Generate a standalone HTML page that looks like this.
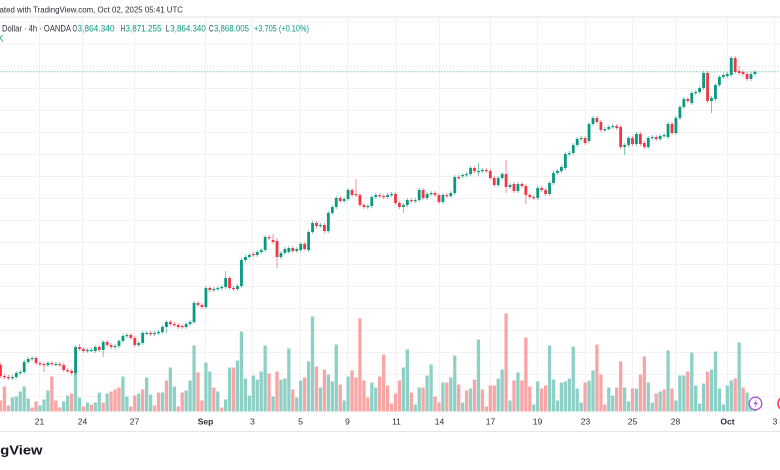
<!DOCTYPE html>
<html><head><meta charset="utf-8">
<style>
html,body{margin:0;padding:0;background:#fff;}
body{width:780px;height:470px;overflow:hidden;}
svg{display:block;font-family:"Liberation Sans",sans-serif;}
</style></head>
<body>
<svg id="s" width="780" height="470" viewBox="0 0 780 470" xmlns="http://www.w3.org/2000/svg">
<rect x="0" y="0" width="780" height="470" fill="#fff"/>
<line x1="0" y1="17" x2="780" y2="17" stroke="#efe9eb" stroke-width="1.5"/>
<g stroke="#f3f1f4" stroke-width="1">
<line x1="0" x2="780" y1="22" y2="22"/><line x1="0" x2="780" y1="44" y2="44"/><line x1="0" x2="780" y1="66.5" y2="66.5"/><line x1="0" x2="780" y1="88.5" y2="88.5"/><line x1="0" x2="780" y1="110.5" y2="110.5"/><line x1="0" x2="780" y1="132.5" y2="132.5"/><line x1="0" x2="780" y1="154.5" y2="154.5"/><line x1="0" x2="780" y1="176.5" y2="176.5"/><line x1="0" x2="780" y1="198.5" y2="198.5"/><line x1="0" x2="780" y1="220.5" y2="220.5"/><line x1="0" x2="780" y1="242.5" y2="242.5"/><line x1="0" x2="780" y1="264.5" y2="264.5"/><line x1="0" x2="780" y1="286.5" y2="286.5"/><line x1="0" x2="780" y1="308.5" y2="308.5"/><line x1="0" x2="780" y1="330.5" y2="330.5"/><line x1="0" x2="780" y1="352.5" y2="352.5"/><line x1="0" x2="780" y1="374.5" y2="374.5"/><line x1="0" x2="780" y1="396.5" y2="396.5"/>
</g>
<g stroke="#f3f1f4" stroke-width="1">
<line y1="18" y2="412" x1="39.5" x2="39.5"/><line y1="18" y2="412" x1="82.5" x2="82.5"/><line y1="18" y2="412" x1="134.5" x2="134.5"/><line y1="18" y2="412" x1="205.5" x2="205.5"/><line y1="18" y2="412" x1="252.5" x2="252.5"/><line y1="18" y2="412" x1="300.5" x2="300.5"/><line y1="18" y2="412" x1="347.5" x2="347.5"/><line y1="18" y2="412" x1="396.5" x2="396.5"/><line y1="18" y2="412" x1="439.5" x2="439.5"/><line y1="18" y2="412" x1="490.5" x2="490.5"/><line y1="18" y2="412" x1="537.5" x2="537.5"/><line y1="18" y2="412" x1="585.5" x2="585.5"/><line y1="18" y2="412" x1="632.5" x2="632.5"/><line y1="18" y2="412" x1="675.5" x2="675.5"/><line y1="18" y2="412" x1="727.5" x2="727.5"/><line y1="18" y2="412" x1="774.5" x2="774.5"/>
</g>
<g id="vol"></g>
<line x1="0" y1="71.8" x2="780" y2="71.8" stroke="#7ccabd" stroke-width="1" stroke-dasharray="1.5 1.5"/>
<g id="cdl"></g>

<text x="-0.5" y="12.7" font-size="8.3" fill="#2a2e39" textLength="183.5" lengthAdjust="spacingAndGlyphs">ated with TradingView.com, Oct 02, 2025 05:41 UTC</text>
<text x="2" y="31.5" font-size="9" fill="#2a2e39" textLength="69" lengthAdjust="spacingAndGlyphs">Dollar · 4h · OANDA</text>
<text x="72.5" y="31.5" font-size="9" fill="#2a2e39" textLength="4.5" lengthAdjust="spacingAndGlyphs">O</text>
<text x="77.5" y="31.5" font-size="9" fill="#089981" textLength="37" lengthAdjust="spacingAndGlyphs">3,864.340</text>
<text x="120.7" y="31.5" font-size="9" fill="#2a2e39" textLength="4.3" lengthAdjust="spacingAndGlyphs">H</text>
<text x="125.5" y="31.5" font-size="9" fill="#089981" textLength="36" lengthAdjust="spacingAndGlyphs">3,871.255</text>
<text x="165.7" y="31.5" font-size="9" fill="#2a2e39" textLength="3.6" lengthAdjust="spacingAndGlyphs">L</text>
<text x="170.3" y="31.5" font-size="9" fill="#089981" textLength="35.5" lengthAdjust="spacingAndGlyphs">3,864.340</text>
<text x="209" y="31.5" font-size="9" fill="#2a2e39" textLength="4.3" lengthAdjust="spacingAndGlyphs">C</text>
<text x="214" y="31.5" font-size="9" fill="#089981" textLength="35" lengthAdjust="spacingAndGlyphs">3,868.005</text>
<text x="254" y="31.5" font-size="9" fill="#089981" textLength="55" lengthAdjust="spacingAndGlyphs">+3.705 (+0.10%)</text>
<text x="-2.5" y="41.7" font-size="9" fill="#089981">K</text>

<g font-size="8.5" fill="#2a2e39" text-anchor="middle">
<text x="39.5" y="424.3">21</text><text x="82.5" y="424.3">24</text><text x="134.5" y="424.3">27</text>
<text x="205.5" y="424.3" font-weight="bold">Sep</text>
<text x="252.5" y="424.3">3</text><text x="300.5" y="424.3">5</text><text x="347.5" y="424.3">9</text>
<text x="396.5" y="424.3">11</text><text x="439.5" y="424.3">14</text><text x="490.5" y="424.3">17</text>
<text x="537.5" y="424.3">19</text><text x="585.5" y="424.3">23</text><text x="632.5" y="424.3">25</text>
<text x="675.5" y="424.3">28</text>
<text x="727.5" y="424.3" font-weight="bold">Oct</text>
<text x="775" y="424.3">3</text>
</g>
<line x1="0" y1="431.5" x2="780" y2="431.5" stroke="#e6e6ea" stroke-width="1"/>

<text x="-44" y="454.5" font-size="12.5" font-weight="bold" fill="#131722" textLength="86.5" lengthAdjust="spacingAndGlyphs">TradingView</text>

<circle cx="755.5" cy="403.5" r="6.3" fill="#fff" stroke="#a64fd8" stroke-width="1.3"/>
<path d="M757 399 L753.5 404 L755.8 404 L754.3 408 L758 402.8 L755.7 402.8 Z" fill="#a64fd8"/>
<circle cx="785" cy="403.5" r="7" fill="#fff" stroke="#f23645" stroke-width="1.5"/>
<circle cx="785" cy="403.5" r="4.5" fill="#2f6fe8"/>
</svg>
<script>
const P=[365,376,376,377,377,378,378,377,377,373,373,372,372,362,362,359,359,358,358,363,
363,364,364,365,365,363,363,364,364,364,364,365,365,370,370,371,371,373,373,347,
347,349,349,351,351,350,350,350,351,347,347,350,350,342,342,345,345,347,347,346,
346,341,341,336,336,335,335,338,338,345,345,343,343,333,333,333,333,334,334,333,
333,332,332,327,327,322,322,324,324,325,325,327,326,327,327,324,324,322,322,303,
303,305,305,307,307,288,288,290,290,289,289,288,288,287,287,278,278,288,288,289,
289,286,286,260,260,257,257,255,254,255,255,252,252,250,250,237,237,238,240,242,
241,257,257,253,253,249,252,248,248,251,251,249,250,244,244,249,250,232,232,223,
223,226,226,225,225,231,231,213,213,207,207,198,198,201,201,199,199,190,190,195,
194,195,195,205,205,207,207,206,206,197,197,195,195,196,196,197,197,195,195,194,
194,203,203,207,207,205,205,200,200,201,201,200,200,190,190,198,198,194,194,193,
193,195,195,202,202,195,195,196,196,193,193,177,177,178,176,175,175,174,174,168,
168,171,172,171,171,170,170,171,171,178,178,185,185,178,178,174,174,187,187,185,
184,191,191,184,184,186,186,195,195,197,197,198,198,188,188,190,190,194,194,183,
183,173,173,171,171,167,168,154,154,153,153,145,145,139,139,138,138,143,141,124,
124,118,118,122,122,130,130,129,129,127,127,126,126,128,127,147,147,145,145,138,
138,144,144,134,134,144,143,147,147,138,138,137,137,139,139,136,136,135,137,124,
124,133,133,118,118,107,107,99,99,101,103,93,93,92,92,88,88,73,73,101,
101,98,99,85,85,77,77,75,76,74,75,58,58,72,71,73,72,74,74,79,
79,74,74,72];
const W={3:[0,380],11:[0,372],20:[344,0],26:[0,357],42:[0,333],70:[238,268],90:[179,0],102:[0,213],121:[163,176],128:[160,193],133:[0,204],157:[0,149],158:[0,155],179:[71,0],180:[0,113],187:[66,0],69:[234,0],57:[271,0]};
const V="r11 r25 r6 t14 t15 t20 t25 t13 r4 r10 t6 t12 t21 r35 r11 r4 t10 t16 r18 t41 t14 r5 t9 r7 t9 t19 r9 t18 r20 r22 r24 t35 t15 r5 r16 t18 r22 t34 t17 r6 r19 t19 r31 t44 t25 r5 r19 t21 t31 t66 r39 r11 t49 t40 r24 t20 r4 t12 t44 r44 t51 t80 t33 t16 t36 t32 t40 t66 r38 t15 r40 t32 t33 t63 r22 t14 t31 r34 t50 t95 r45 t24 r42 t37 t30 t67 r27 t11 t35 r41 r34 r93 r31 r14 t29 t24 r35 r57 r26 r8 r18 r31 t44 t62 r19 t7 t24 r24 t36 t47 r15 r9 t29 r29 t34 t56 r27 t9 r21 t23 r32 t72 r22 r5 r26 r26 t33 t42 r98 t11 r31 t39 r31 r74 r25 t7 t30 r23 r26 t66 t32 t11 t29 t30 t33 t65 t23 t9 r29 t31 t41 r67 r37 r7 t24 t16 r24 r50 t24 t10 r23 t23 r37 r55 t29 t9 r18 t20 r22 t61 r23 t11 t36 t36 r40 t59 t26 t8 t28 r40 t42 t60 t23 t7 t26 t31 r33 t69 r24 t19 t9 t3".split(" ");
let vs="",cs="";
const n=P.length/2;
for(let i=0;i<n;i++){
  const x=0.5+3.95*i;
  const v=V[i]||"t5";
  const vc=v[0]==="t"?"#8fd0c6":"#f7a5a5";
  const h=+v.slice(1);
  vs+='<rect x="'+(x-1.65).toFixed(2)+'" y="'+(411.5-h).toFixed(2)+'" width="3.3" height="'+h+'" fill="'+vc+'"/>';
  const o=P[2*i],c=P[2*i+1];
  const up=c<=o;
  const col=up?"#089981":"#f23645";
  const top=Math.min(o,c),bot=Math.max(o,c);
  let hi=top-2,lo=bot+2;
  if(W[i]){if(W[i][0])hi=W[i][0];if(W[i][1])lo=W[i][1];}
  cs+='<line x1="'+x.toFixed(2)+'" x2="'+x.toFixed(2)+'" y1="'+hi+'" y2="'+lo+'" stroke="'+col+'" stroke-opacity="0.55" stroke-width="1"/>';
  cs+='<rect x="'+(x-1.4).toFixed(2)+'" y="'+top+'" width="2.8" height="'+Math.max(bot-top,1.2)+'" fill="'+col+'"/>';
}
document.getElementById("vol").innerHTML=vs;
document.getElementById("cdl").innerHTML=cs;
</script>
</body></html>
